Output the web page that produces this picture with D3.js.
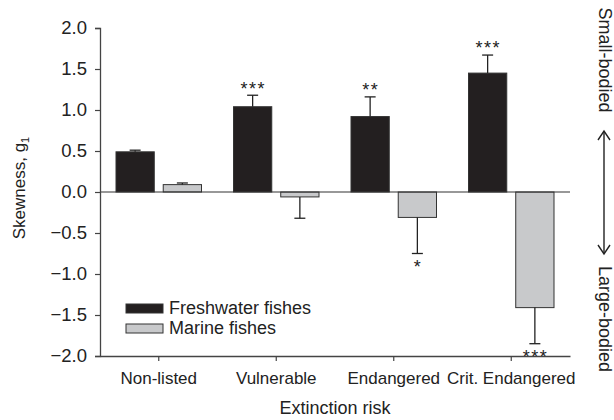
<!DOCTYPE html>
<html>
<head>
<meta charset="utf-8">
<script src="https://cdn.jsdelivr.net/npm/d3@7"></script>
<style>
  body { margin: 0; background: #fff; }
  text { font-family: "Liberation Sans", Arial, Helvetica, sans-serif; fill: #222; }
</style>
</head>
<body>
<div id="chart"></div>
<script>
// categories and series
const categories = ["Non-listed", "Vulnerable", "Endangered", "Crit. Endangered"];
const seriesNames = ["Freshwater fishes", "Marine fishes"];
const seriesColors = ["#231f20", "#c8c9cb"];

// skewness values (g1)
const freshwaterValues = [0.49, 1.04, 0.92, 1.45];
const freshwaterErrors = [0.02, 0.14, 0.24, 0.22];
const marineValues = [0.09, -0.06, -0.31, -1.41];
const marineErrors = [0.02, 0.26, 0.44, 0.44];

// significance stars
const freshwaterStars = ["", "***", "**", "***"];
const marineStars = ["", "", "*", "***"];

const yTicks = [2.0, 1.5, 1.0, 0.5, 0.0, -0.5, -1.0, -1.5, -2.0];

const width = 614, height = 420;
const margin = { top: 28, right: 44, bottom: 64, left: 100 };

const svg = d3.select("#chart").append("svg")
  .attr("width", width)
  .attr("height", height);

const x0 = d3.scaleBand()
  .domain(categories)
  .range([margin.left, width - margin.right]);

const x1 = d3.scaleBand()
  .domain(seriesNames)
  .range([16, x0.bandwidth() - 16])
  .paddingInner(0.19);

const y = d3.scaleLinear()
  .domain([-2, 2])
  .range([height - margin.bottom, margin.top]);

// build rows for bars
const rows = [];
categories.forEach((c, i) => {
  rows.push({ cat: c, series: seriesNames[0], value: freshwaterValues[i], err: freshwaterErrors[i], stars: freshwaterStars[i], color: seriesColors[0] });
  rows.push({ cat: c, series: seriesNames[1], value: marineValues[i], err: marineErrors[i], stars: marineStars[i], color: seriesColors[1] });
});

// bars
svg.append("g").selectAll("rect")
  .data(rows)
  .join("rect")
  .attr("x", d => x0(d.cat) + x1(d.series))
  .attr("y", d => y(Math.max(0, d.value)))
  .attr("width", x1.bandwidth())
  .attr("height", d => Math.abs(y(d.value) - y(0)))
  .attr("fill", d => d.color)
  .attr("stroke", "#333")
  .attr("stroke-width", 1);

// error bars (one-sided, away from zero)
const errG = svg.append("g").attr("stroke", "#222").attr("stroke-width", 1.3);
rows.forEach(d => {
  const cx = x0(d.cat) + x1(d.series) + x1.bandwidth() / 2;
  const sign = d.value >= 0 ? 1 : -1;
  const end = d.value + sign * d.err;
  errG.append("line")
    .attr("x1", cx).attr("x2", cx)
    .attr("y1", y(d.value)).attr("y2", y(end));
  errG.append("line")
    .attr("x1", cx - 5.5).attr("x2", cx + 5.5)
    .attr("y1", y(end)).attr("y2", y(end));
});

// stars
svg.append("g").selectAll("text")
  .data(rows.filter(d => d.stars))
  .join("text")
  .attr("x", d => x0(d.cat) + x1(d.series) + x1.bandwidth() / 2 + 0.75)
  .attr("y", d => {
    const sign = d.value >= 0 ? 1 : -1;
    const end = y(d.value + sign * d.err);
    const center = sign > 0 ? end - 11 : end + 9;
    return center + 10.4;
  })
  .attr("text-anchor", "middle")
  .style("font-size", "18px")
  .style("letter-spacing", "1.5px")
  .text(d => d.stars);

// zero line
svg.append("line")
  .attr("x1", margin.left).attr("x2", width - margin.right)
  .attr("y1", y(0)).attr("y2", y(0))
  .attr("stroke", "#333").attr("stroke-width", 1.2);

// y axis
const yAxis = svg.append("g")
  .attr("transform", `translate(${margin.left},0)`)
  .call(d3.axisLeft(y).tickValues(yTicks).tickSize(5).tickPadding(8)
    .tickFormat(d => d3.format(".1f")(d).replace("-", "\u2212")));
yAxis.select(".domain").attr("stroke", "#444").attr("stroke-width", 1.3);
yAxis.selectAll(".tick line").attr("stroke", "#444").attr("stroke-width", 1.2);
yAxis.selectAll(".tick text").style("font-size", "18.5px").attr("fill", "#222");

// x axis
const xAxis = svg.append("g")
  .attr("transform", `translate(0,${height - margin.bottom})`)
  .call(d3.axisBottom(x0).tickSize(5).tickSizeOuter(0).tickPadding(11));
xAxis.select(".domain").attr("stroke", "#444").attr("stroke-width", 1.3);
xAxis.selectAll(".tick line").attr("stroke", "#444").attr("stroke-width", 1.2);
xAxis.selectAll(".tick text").style("font-size", "17px").attr("fill", "#222");

// axis titles
svg.append("text")
  .attr("x", (margin.left + width - margin.right) / 2)
  .attr("y", 414)
  .attr("text-anchor", "middle")
  .style("font-size", "18px")
  .text("Extinction risk");

const yTitle = svg.append("text")
  .attr("transform", "translate(25,188) rotate(-90)")
  .attr("text-anchor", "middle")
  .style("font-size", "17px");
yTitle.append("tspan").text("Skewness, g");
yTitle.append("tspan").attr("dy", 4).style("font-size", "11px").text("1");

// legend
const legend = svg.append("g").attr("transform", "translate(126,304)");
seriesNames.forEach((s, i) => {
  legend.append("rect")
    .attr("x", 0).attr("y", i * 20)
    .attr("width", 37).attr("height", 9)
    .attr("fill", seriesColors[i])
    .attr("stroke", "#333").attr("stroke-width", 1);
  legend.append("text")
    .attr("x", 43).attr("y", i * 20 + 10)
    .style("font-size", "18px")
    .text(s);
});

// right-hand annotation
svg.append("text")
  .attr("transform", "translate(599,60) rotate(90)")
  .attr("text-anchor", "middle")
  .style("font-size", "18px")
  .text("Small-bodied");
svg.append("text")
  .attr("transform", "translate(599,319) rotate(90)")
  .attr("text-anchor", "middle")
  .style("font-size", "18px")
  .text("Large-bodied");

const arrow = svg.append("g").attr("stroke", "#222").attr("stroke-width", 1.4).attr("fill", "none");
arrow.append("line").attr("x1", 604).attr("x2", 604).attr("y1", 132).attr("y2", 253);
arrow.append("path").attr("d", "M598,140 L604,131 L610,140");
arrow.append("path").attr("d", "M598,245 L604,254 L610,245");
</script>
</body>
</html>
